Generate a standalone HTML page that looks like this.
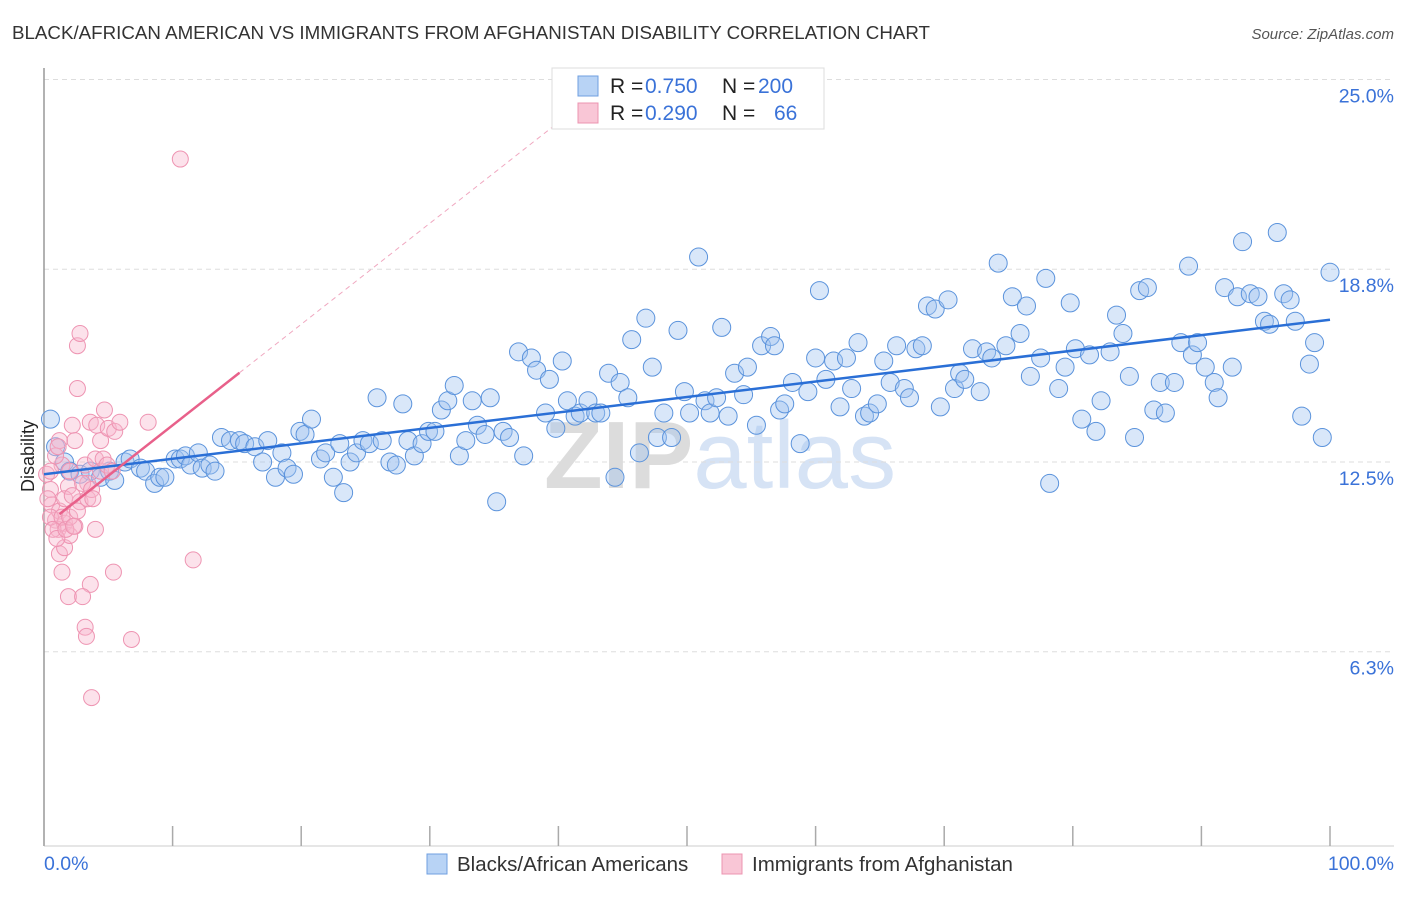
<!DOCTYPE html>
<html><head><meta charset="utf-8"><style>
body{margin:0;background:#fff;font-family:"Liberation Sans",sans-serif;}
svg text{font-family:"Liberation Sans",sans-serif;}
</style></head><body>
<svg id="c" width="1406" height="892" xmlns="http://www.w3.org/2000/svg">
<text x="12" y="39" font-size="18" fill="#333" textLength="918" lengthAdjust="spacingAndGlyphs">BLACK/AFRICAN AMERICAN VS IMMIGRANTS FROM AFGHANISTAN DISABILITY CORRELATION CHART</text>
<text x="1394" y="39" font-size="15" fill="#555" text-anchor="end" font-style="italic">Source: ZipAtlas.com</text>
<text x="720" y="488" font-size="96" fill="#e4e4e4" text-anchor="middle" font-family="Liberation Serif"><tspan fill="#dcdcdc" font-weight="bold">ZIP</tspan><tspan fill="#d6e3f5" font-family="Liberation Sans">atlas</tspan></text>
<g id="grid"></g>
<g id="pts"></g>
<g id="lines"></g>
<text transform="translate(34,456) rotate(-90)" font-size="18" fill="#222" text-anchor="middle">Disability</text>
<g>
<rect x="552" y="68" width="272" height="61" fill="#fff" stroke="#ddd"/>
<rect x="578" y="76" width="20" height="20" fill="#b8d3f5" stroke="#6f9fe0"/>
<rect x="578" y="103" width="20" height="20" fill="#f9c6d6" stroke="#ec94b0"/>
<text y="93" font-size="21" fill="#222"><tspan x="610">R =</tspan><tspan x="645" fill="#3a72d8">0.750</tspan><tspan x="722">N =</tspan><tspan x="758" fill="#3a72d8">200</tspan></text>
<text y="120" font-size="21" fill="#222"><tspan x="610">R =</tspan><tspan x="645" fill="#3a72d8">0.290</tspan><tspan x="722">N =</tspan><tspan x="774" fill="#3a72d8">66</tspan></text>
</g>
<g>
<rect x="427" y="854" width="20" height="20" fill="#b8d3f5" stroke="#6f9fe0"/>
<text x="457" y="871" font-size="20.5" fill="#333">Blacks/African Americans</text>
<rect x="722" y="854" width="20" height="20" fill="#f9c6d6" stroke="#ec94b0"/>
<text x="752" y="871" font-size="20.5" fill="#333">Immigrants from Afghanistan</text>
</g>
<text x="44" y="870" font-size="19.5" fill="#3a72d8">0.0%</text>
<text x="1394" y="870" font-size="19.5" fill="#3a72d8" text-anchor="end">100.0%</text>
</svg>
<script>
const yTicks=[25.0,18.8,12.5,6.3];
const yTickLabels=["25.0%","18.8%","12.5%","6.3%"];
const xTicks=[0,10,20,30,40,50,60,70,80,90,100];
const blueX=[0.5,0.9,1.6,2.0,2.8,3.6,4.4,5.1,5.5,6.3,6.7,7.5,7.9,8.6,9.0,9.4,10.2,10.6,11.0,11.4,12.0,12.3,12.9,13.3,13.8,14.5,15.2,15.6,16.4,17.0,17.4,18.0,18.5,18.9,19.4,19.9,20.3,20.8,21.5,21.9,22.5,23.0,23.3,23.8,24.3,24.8,25.3,25.9,26.3,26.9,27.4,27.9,28.3,28.8,29.4,29.9,30.4,30.9,31.4,31.9,32.3,32.8,33.3,33.7,34.3,34.7,35.2,35.7,36.2,36.9,37.3,37.9,38.3,39.0,39.3,39.8,40.3,40.7,41.3,41.7,42.3,42.9,43.3,43.9,44.4,44.8,45.4,45.7,46.3,46.8,47.3,47.7,48.2,48.8,49.3,49.8,50.2,50.9,51.4,51.8,52.3,52.7,53.2,53.7,54.4,54.7,55.4,55.8,56.5,56.8,57.2,57.6,58.2,58.8,59.4,60.0,60.3,60.8,61.4,61.9,62.4,62.8,63.3,63.8,64.2,64.8,65.3,65.8,66.3,66.9,67.3,67.8,68.3,68.7,69.3,69.7,70.3,70.8,71.2,71.6,72.2,72.8,73.3,73.7,74.2,74.8,75.3,75.9,76.4,76.7,77.5,77.9,78.2,78.9,79.4,79.8,80.2,80.7,81.3,81.8,82.2,82.9,83.4,83.9,84.4,84.8,85.2,85.8,86.3,86.8,87.2,87.9,88.4,89.0,89.3,89.7,90.3,91.0,91.3,91.8,92.4,92.8,93.2,93.8,94.4,94.9,95.3,95.9,96.4,96.9,97.3,97.8,98.4,98.8,99.4,100.0];
const blueY=[13.9,13.0,12.5,12.2,12.1,12.2,12.0,12.2,11.9,12.5,12.6,12.3,12.2,11.8,12.0,12.0,12.6,12.6,12.7,12.4,12.8,12.3,12.4,12.2,13.3,13.2,13.2,13.1,13.0,12.5,13.2,12.0,12.8,12.3,12.1,13.5,13.4,13.9,12.6,12.8,12.0,13.1,11.5,12.5,12.8,13.2,13.1,14.6,13.2,12.5,12.4,14.4,13.2,12.7,13.1,13.5,13.5,14.2,14.5,15.0,12.7,13.2,14.5,13.7,13.4,14.6,11.2,13.5,13.3,16.1,12.7,15.9,15.5,14.1,15.2,13.6,15.8,14.5,14.0,14.1,14.5,14.1,14.1,15.4,12.0,15.1,14.6,16.5,12.8,17.2,15.6,13.3,14.1,13.3,16.8,14.8,14.1,19.2,14.5,14.1,14.6,16.9,14.0,15.4,14.7,15.6,13.7,16.3,16.6,16.3,14.2,14.4,15.1,13.1,14.8,15.9,18.1,15.2,15.8,14.3,15.9,14.9,16.4,14.0,14.1,14.4,15.8,15.1,16.3,14.9,14.6,16.2,16.3,17.6,17.5,14.3,17.8,14.9,15.4,15.2,16.2,14.8,16.1,15.9,19.0,16.3,17.9,16.7,17.6,15.3,15.9,18.5,11.8,14.9,15.6,17.7,16.2,13.9,16.0,13.5,14.5,16.1,17.3,16.7,15.3,13.3,18.1,18.2,14.2,15.1,14.1,15.1,16.4,18.9,16.0,16.4,15.6,15.1,14.6,18.2,15.6,17.9,19.7,18.0,17.9,17.1,17.0,20.0,18.0,17.8,17.1,14.0,15.7,16.4,13.3,18.7];
const pinkX=[0.2,0.5,0.6,0.9,1.1,1.2,1.4,1.6,1.9,2.0,2.2,2.4,2.6,2.8,3.2,3.4,3.6,4.0,4.1,4.4,4.7,5.0,5.5,5.9,8.1,10.6,11.6,6.8,5.4,3.6,1.9,3.0,3.2,3.3,3.7,1.4,1.2,1.6,2.0,2.4,2.8,1.2,0.9,0.5,0.3,0.5,0.7,1.0,1.4,1.7,2.0,2.3,2.6,3.0,3.4,3.7,4.0,4.4,4.6,4.9,5.3,2.6,3.8,1.1,1.6,2.2];
const pinkY=[12.1,11.6,11.1,10.6,10.3,10.9,12.4,10.5,11.7,12.2,13.7,13.2,16.3,16.7,12.4,11.8,13.8,12.6,13.7,13.2,14.2,13.6,13.5,13.8,13.8,22.4,9.3,6.7,8.9,8.5,8.1,8.1,7.1,6.8,4.8,8.9,9.5,9.7,10.1,10.4,11.2,13.2,12.7,12.2,11.3,10.7,10.3,10.0,10.7,10.3,10.7,10.4,10.9,11.8,11.3,11.6,10.3,12.2,12.6,12.4,12.2,14.9,11.3,13.0,11.3,11.4];
const blueTrend=[12.1,17.15]; // value at 0% and 100%
const pinkTrend=[10.4,0.33]; // intercept, slope per %
const pinkSolidRange=[1.2,15.2];

const X=v=>44+v*12.86;
const Y=v=>462-(v-12.5)*30.6;
const NS="http://www.w3.org/2000/svg";
function mk(tag,attrs,parent){const e=document.createElementNS(NS,tag);for(const k in attrs)e.setAttribute(k,attrs[k]);parent.appendChild(e);return e;}
const grid=document.getElementById('grid');
yTicks.forEach((t,i)=>{
  const l=mk('line',{x1:44,x2:1394,y1:Y(t),y2:Y(t),stroke:'#ddd','stroke-dasharray':'5,4'},grid);
  
  
  const tx=mk('text',{x:1394,y:Y(t)+23,'font-size':19.5,fill:'#3a72d8','text-anchor':'end'},grid);
  tx.textContent=yTickLabels[i];
  
  
});
const ax=mk('line',{x1:44,x2:44,y1:68,y2:846,stroke:'#999','stroke-width':1.5},grid);


const bx=mk('line',{x1:44,x2:1394,y1:846,y2:846,stroke:'#ccc'},grid);


xTicks.forEach(t=>{
  const l=mk('line',{x1:X(t),x2:X(t),y1:826,y2:846,stroke:'#aaa','stroke-width':1.5},grid);
  
  
});
const pts=document.getElementById('pts');
blueX.forEach((v,i)=>{
  const c=mk('circle',{cx:X(v),cy:Y(blueY[i]),r:9,fill:'rgba(160,196,240,0.4)',stroke:'#5b93dc','stroke-width':1},pts);
  
  
});
pinkX.forEach((v,i)=>{
  const c=mk('circle',{cx:X(v),cy:Y(pinkY[i]),r:8,fill:'rgba(248,182,204,0.4)',stroke:'#ee94b2','stroke-width':1},pts);
  
  
});
const lines=document.getElementById('lines');
const bl=mk('line',{x1:X(0),y1:Y(blueTrend[0]),x2:X(100),y2:Y(blueTrend[1]),stroke:'#2a6fd6','stroke-width':2.5},lines);


const pf=x=>pinkTrend[0]+pinkTrend[1]*x;
const xEnd=(25-pinkTrend[0])/pinkTrend[1];
const pd=mk('line',{x1:X(pinkSolidRange[1]),y1:Y(pf(pinkSolidRange[1])),x2:X(xEnd),y2:Y(25),stroke:'#f0a8c0','stroke-width':1,'stroke-dasharray':'5,4'},lines);


const ps=mk('line',{x1:X(pinkSolidRange[0]),y1:Y(pf(pinkSolidRange[0])),x2:X(pinkSolidRange[1]),y2:Y(pf(pinkSolidRange[1])),stroke:'#e8608a','stroke-width':2.5},lines);


</script>
</body></html>
